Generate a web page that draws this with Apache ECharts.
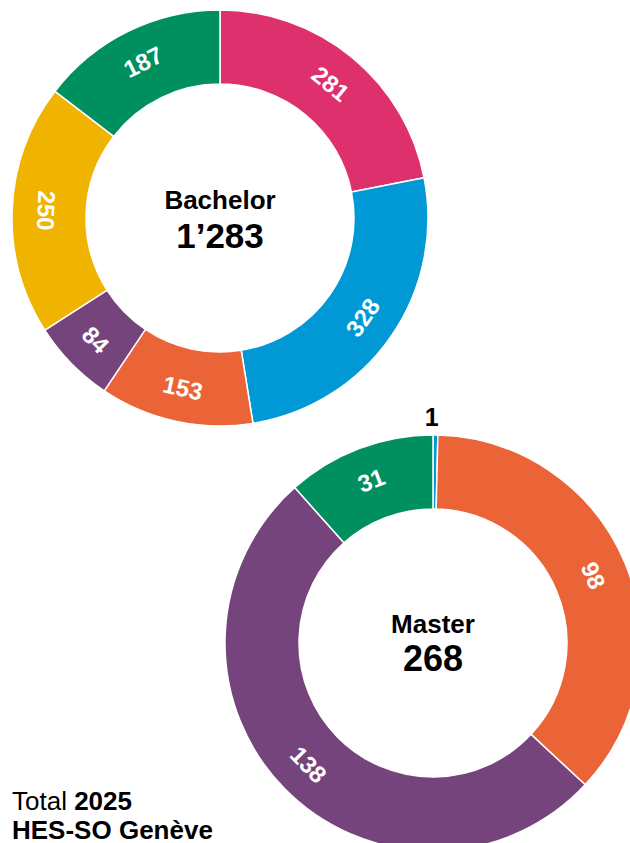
<!DOCTYPE html>
<html>
<head>
<meta charset="utf-8">
<script src="https://cdn.jsdelivr.net/npm/echarts@6/dist/echarts.min.js"></script>
<style>
html,body{margin:0;padding:0;background:#fff;}
#c{width:630px;height:843px;}
</style>
</head>
<body>
<div id="c"></div>
<script>
// Category order (clockwise from the top of each ring)
const categories = ['Rose', 'Bleu', 'Orange', 'Violet', 'Jaune', 'Vert'];
const categoryColors = ['#de306c', '#0099d6', '#eb6437', '#76447c', '#f0b400', '#00905f'];
const bachelorValues = [281, 328, 153, 84, 250, 187];
const masterValues = [0, 1, 98, 138, 0, 31];
const bachelorTitle = 'Bachelor';
const bachelorTotal = '1’283';
const masterTitle = 'Master';
const masterTotal = '268';
const footerLine1 = ['Total ', '2025'];
const footerLine2 = 'HES-SO Genève';

const FONT = '"Liberation Sans", Arial, Helvetica, sans-serif';

function buildData(values, smallOutside) {
  const total = values.reduce((a, b) => a + b, 0);
  let cum = 0;
  const out = [];
  values.forEach((v, i) => {
    if (v <= 0) return;
    const mid = (cum + v / 2) / total * 360; // degrees clockwise from top
    cum += v;
    const flip = mid > 90 && mid < 280;
    const rot = flip ? 180 - mid : -mid;
    const item = {
      name: categories[i],
      value: v,
      itemStyle: { color: categoryColors[i] },
      label: { rotate: rot }
    };
    if (smallOutside && v / total < 0.02) {
      item.label = {
        position: 'outside',
        rotate: 0,
        color: '#000',
        fontSize: 25,
        fontWeight: 'bold',
        distanceToLabelLine: 0
      };
      item.labelLine = { show: false, length: 18, length2: 0 };
    }
    out.push(item);
  });
  return out;
}

function pieSeries(values, center, smallOutside) {
  return {
    type: 'pie',
    center: center,
    radius: [134, 208],
    startAngle: 90,
    clockwise: true,
    avoidLabelOverlap: false,
    silent: true,
    itemStyle: { borderColor: '#ffffff', borderWidth: 1.5 },
    label: {
      show: true,
      position: 'inside',
      color: '#ffffff',
      fontFamily: FONT,
      fontSize: 24,
      fontWeight: 'bold',
      formatter: '{c}'
    },
    labelLine: { show: false },
    emphasis: { disabled: true },
    labelLayout: function (p) {
      if (p.labelRect && p.dataIndex === 0 && smallOutside) {
        return { align: 'center', dx: -4 };
      }
      return {};
    },
    data: buildData(values, smallOutside)
  };
}

const chart = echarts.init(document.getElementById('c'), null, { renderer: 'svg' });
chart.setOption({
  animation: false,
  backgroundColor: '#ffffff',
  series: [
    pieSeries(bachelorValues, [220, 218], false),
    pieSeries(masterValues, [433, 643], true)
  ],
  graphic: [
    { type: 'text', x: 220, y: 200, style: { text: bachelorTitle, font: 'bold 26px ' + FONT, fill: '#000', align: 'center', verticalAlign: 'middle' } },
    { type: 'text', x: 220, y: 235, style: { text: bachelorTotal, font: 'bold 35px ' + FONT, fill: '#000', align: 'center', verticalAlign: 'middle' } },
    { type: 'text', x: 433, y: 624, style: { text: masterTitle, font: 'bold 26px ' + FONT, fill: '#000', align: 'center', verticalAlign: 'middle' } },
    { type: 'text', x: 433, y: 658, style: { text: masterTotal, font: 'bold 36px ' + FONT, fill: '#000', align: 'center', verticalAlign: 'middle' } },
    {
      type: 'text', x: 12, y: 786,
      style: {
        text: '{r|' + footerLine1[0] + '}{b|' + footerLine1[1] + '}\n{b|' + footerLine2 + '}',
        fill: '#000',
        rich: {
          r: { fontFamily: FONT, fontSize: 26, fontWeight: 'normal', lineHeight: 29, fill: '#000' },
          b: { fontFamily: FONT, fontSize: 26, fontWeight: 'bold', lineHeight: 29, fill: '#000' }
        }
      }
    }
  ]
});
</script>
</body>
</html>
